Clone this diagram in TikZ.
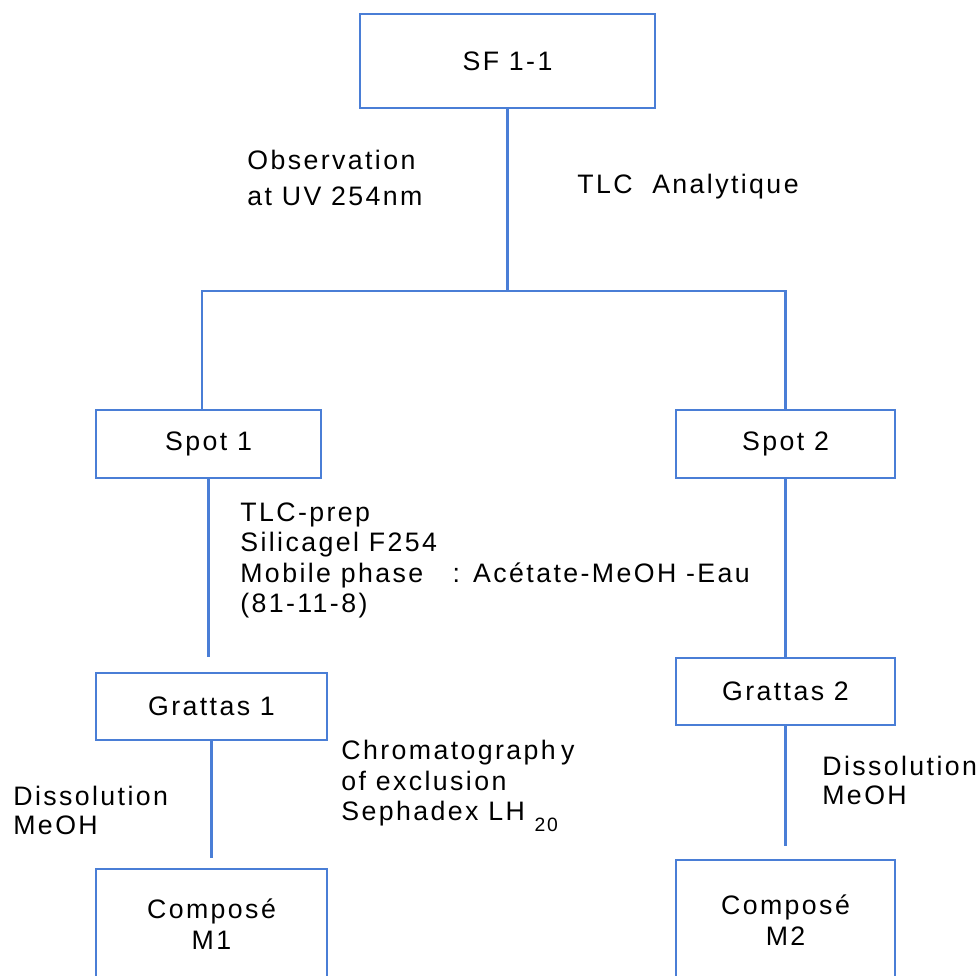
\documentclass[tikz,border=0pt]{standalone}
\usepackage{fontspec}
\setmainfont[LetterSpace=9]{Liberation Sans}
\definecolor{flowblue}{RGB}{74,126,214}

\tikzset{
  box/.style={draw=flowblue, line width=1.2pt, inner sep=0pt, align=center,
    font=\fontsize{15.2}{17.6}\selectfont},
  link/.style={draw=flowblue, line width=1.2pt},
  note/.style={anchor=north west, inner sep=0pt, align=left,
    font=\fontsize{15.2}{17.4}\selectfont},
}

\begin{document}
\begin{tikzpicture}
    \useasboundingbox (0,0) rectangle (19.6,-19.52);

    \node[box, minimum width=5.9cm, minimum height=1.88cm] (sf) at (10.15,-1.22) {SF 1-1};
    \node[box, minimum width=4.5cm, minimum height=1.36cm] (spot1) at (4.17,-8.88) {Spot 1};
    \node[box, minimum width=4.38cm, minimum height=1.36cm] (spot2) at (15.71,-8.88) {Spot 2};
    \node[box, minimum width=4.62cm, minimum height=1.34cm] (grattas1) at (4.23,-14.13) {Grattas 1};
    \node[box, minimum width=4.38cm, minimum height=1.34cm] (grattas2) at (15.71,-13.83) {Grattas 2};
    \node[box, minimum width=4.62cm, minimum height=2.2cm] (compose1) at (4.23,-18.48) {Composé\\M1};
    \node[box, minimum width=4.38cm, minimum height=2.4cm] (compose2) at (15.71,-18.4) {Composé\\M2};

    \path (sf.south) ++(0,-3.64) coordinate (split);
    \draw[link] (sf.south) -- (split);
    \draw[link] ([xshift=-0.13cm]spot1.north) |- (split) -| (spot2.north);
    \draw[link, shorten >=0.3cm] (spot1.south) -- (spot1.south |- grattas1.north);
    \draw[link, shorten >=0.2cm] (grattas1.south) -- (grattas1.south |- compose1.north);
    \draw[link] (spot2) -- (grattas2);
    \draw[link, shorten >=0.26cm] (grattas2) -- (compose2);

    \node[note, font=\fontsize{15.2}{20.5}\selectfont] (obs) at (4.94,-3.0) {Observation\\at UV 254nm};
    \node[note] (tlca) at (11.54,-3.48) {TLC~~Analytique};
    \node[note] (prep) at (4.8,-10.04) {TLC-prep\\Silicagel F254\\Mobile phase~~~: Acétate-MeOH -Eau\\(81-11-8)};
    \node[note] (chrom) at (6.82,-14.8) {Chromatograph\hspace{0.2em}y\\of exclusion\\Sephadex LH \raisebox{-6.3pt}{\fontsize{11}{12}\selectfont 20}};
    \node[note, font=\fontsize{15.2}{16.2}\selectfont] (diss1) at (0.26,-15.72) {Dissolution\\MeOH};
    \node[note, font=\fontsize{15.2}{16.2}\selectfont] (diss2) at (16.44,-15.12) {Dissolution\\MeOH};
\end{tikzpicture}
\end{document}
